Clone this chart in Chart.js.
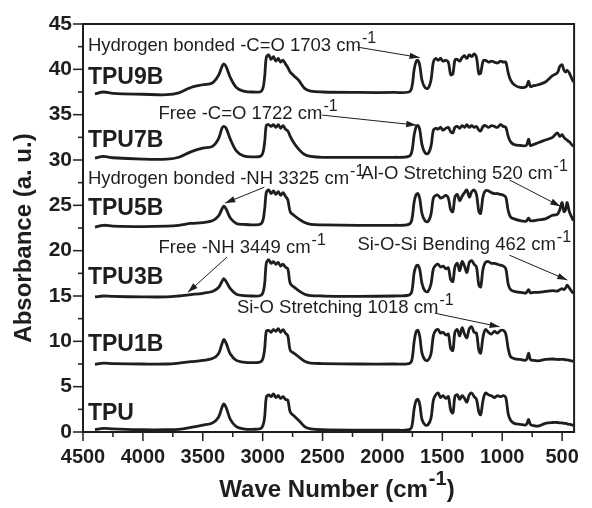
<!DOCTYPE html>
<html>
<head>
<meta charset="utf-8">
<script src="https://cdn.jsdelivr.net/npm/chart.js@4.4.1/dist/chart.umd.min.js"></script>
<style>
  body { margin: 0; background: #fff; }
</style>
</head>
<body>
<canvas id="chart" width="592" height="508"></canvas>
<script>
const wavenumbers = [
  4400, 4330, 4250, 4000, 3800, 3700, 3600, 3500, 3420, 3370,
  3340, 3325, 3305, 3270, 3220, 3160, 3080, 3010, 2985, 2970,
  2950, 2930, 2910, 2890, 2870, 2850, 2830, 2810, 2790, 2770,
  2740, 2700, 2650, 2600, 2500, 2200, 1900, 1780, 1755, 1735,
  1718, 1703, 1688, 1670, 1645, 1620, 1595, 1575, 1555, 1535,
  1515, 1495, 1470, 1450, 1430, 1412, 1395, 1375, 1355, 1335,
  1315, 1295, 1275, 1255, 1235, 1215, 1195, 1180, 1160, 1140,
  1115, 1090, 1065, 1040, 1015, 990, 970, 950, 930, 900,
  850, 800, 780, 765, 740, 700, 640, 580, 540, 520,
  500, 485, 470, 458, 440, 420, 405
];

const tpu = [
  0.25, 0.4, 0.35, 0.25, 0.25, 0.3, 0.5, 0.75, 1.0, 1.6,
  2.7, 3.1, 2.7, 1.4, 0.6, 0.35, 0.3, 0.45, 1.5, 3.8,
  4.1, 3.9, 4.2, 3.8, 4.0, 3.7, 3.9, 3.6, 3.5, 2.2,
  1.8, 1.3, 0.6, 0.35, 0.25, 0.2, 0.2, 0.25, 0.6, 2.6,
  3.5, 3.6, 3.0, 1.4, 0.8, 0.8, 1.5, 3.5, 4.1, 4.3,
  3.8, 4.0, 3.7, 3.9, 2.4, 2.1, 3.9, 4.1, 3.6, 4.0,
  3.7, 3.3, 4.1, 4.3, 3.9, 3.6, 2.2, 1.9, 3.5, 4.3,
  4.1, 4.0, 3.8, 4.0, 3.9, 4.0, 3.8, 2.0, 1.3, 0.95,
  0.85, 0.8, 1.4, 0.85, 0.7, 0.65, 0.95, 1.05, 1.05, 1.0,
  1.0, 0.95, 0.95, 0.9, 0.85, 0.8, 0.7
];

const tpu1b = [
  7.45, 7.6, 7.55, 7.5, 7.5, 7.6, 7.75, 7.9, 8.1, 8.6,
  9.7, 10.2, 9.8, 8.6, 7.9, 7.7, 7.65, 7.8, 9.0, 11.1,
  11.2, 11.0, 11.3, 11.1, 11.4, 11.0, 11.3, 10.9, 10.6, 9.0,
  8.7, 8.3, 7.8, 7.6, 7.55, 7.5, 7.5, 7.55, 7.9, 10.0,
  11.1, 11.2, 10.5, 8.7, 7.95, 7.9, 8.6, 10.6, 11.2, 11.3,
  10.9, 11.0, 10.7, 10.8, 9.2, 9.0, 11.0, 11.3, 10.6, 11.5,
  10.8, 10.4, 11.4, 11.6, 11.0, 10.9, 9.0, 8.7, 10.5, 11.3,
  11.0, 10.8, 11.1, 10.9, 11.2, 11.2, 10.8, 9.2, 8.3, 8.1,
  8.0, 7.95, 8.7, 8.0, 7.9, 7.85, 8.0, 8.05, 8.0, 8.0,
  8.0, 8.0, 7.95, 7.95, 7.9, 7.85, 7.8
];

const tpu3b = [
  14.9, 15.0, 14.95, 14.9, 14.9, 15.0, 15.15, 15.3, 15.5, 15.9,
  16.6, 16.9, 16.6, 15.8, 15.2, 15.05, 15.0, 15.1, 16.2, 18.6,
  19.0, 18.6, 18.8, 18.5, 18.7, 18.3, 18.5, 18.2, 18.0, 16.4,
  16.0, 15.6, 15.2, 15.05, 15.0, 14.95, 15.0, 15.1, 15.5, 17.6,
  18.3, 18.4, 17.9, 16.4, 15.55, 15.5, 16.3, 18.0, 18.4, 18.5,
  18.2, 18.3, 18.0, 18.1, 16.8, 16.6, 18.2, 18.6, 17.8, 18.8,
  18.3, 17.6, 18.7, 18.9, 18.5, 18.2, 16.2, 16.0, 18.0, 18.7,
  18.8, 18.6, 18.6, 18.5, 18.4, 18.3, 18.0, 16.3, 15.7, 15.5,
  15.4, 15.35, 15.7, 15.35, 15.4, 15.4, 15.5, 15.6, 15.55, 15.7,
  15.8, 15.7, 15.9, 16.2, 15.9, 15.5, 15.3
];

const tpu5b = [
  22.6, 22.8, 22.7, 22.65, 22.7, 22.8, 23.0, 23.1, 23.3, 23.8,
  24.6, 24.9, 24.6, 23.6, 23.0, 22.9, 22.85, 23.0, 24.4, 26.4,
  26.7, 26.3, 26.6, 26.2, 26.5, 26.1, 26.4, 26.0, 25.6, 24.3,
  23.9, 23.5, 23.1, 22.9, 22.85, 22.8, 22.8, 22.9, 23.4, 25.4,
  26.2, 26.3, 25.7, 24.1, 23.3, 23.2, 24.0, 25.8, 26.1, 26.1,
  25.8, 25.9, 26.1, 25.8, 24.5, 24.3, 25.9, 26.2, 25.5, 26.0,
  26.4, 26.7, 25.9, 26.5, 26.7, 26.2, 24.3, 24.1, 26.0, 26.6,
  26.6, 26.4, 26.3, 26.3, 26.2, 26.1, 25.9, 24.4, 23.7, 23.5,
  23.3, 23.25, 23.6, 23.3, 23.3, 23.4, 23.5, 23.9, 24.0, 24.5,
  25.3, 24.3, 24.6, 25.3, 24.3, 23.7, 23.3
];

const tpu7b = [
  30.2, 30.4, 30.25, 30.1, 30.1, 30.3, 30.9, 31.3, 31.5, 32.3,
  33.5, 33.7, 33.5, 32.3, 31.0, 30.45, 30.35, 30.5, 31.8, 33.8,
  33.9, 33.7, 33.9, 33.6, 33.9, 33.5, 33.8, 33.4, 33.2, 32.6,
  31.9, 31.2, 30.6, 30.4, 30.3, 30.3, 30.3, 30.4, 30.9, 32.8,
  33.7, 33.8, 33.3, 31.7, 30.8, 30.7, 31.5, 33.3, 33.5, 33.4,
  33.6, 33.3, 33.5, 33.6, 33.1, 33.0, 33.6, 33.7, 33.5, 33.8,
  33.6, 33.9, 33.6, 33.8, 33.6, 33.7, 33.3, 33.2, 33.7, 33.8,
  33.6, 33.8, 33.7, 33.6, 33.9, 33.7, 33.6, 32.6, 32.0, 31.7,
  31.6, 31.6, 32.3, 31.6, 31.7, 31.9, 32.2, 32.5, 33.0, 32.6,
  32.8, 32.5, 32.3, 32.2, 32.0, 31.7, 31.5
];

const tpu9b = [
  37.3, 37.5, 37.35, 37.25, 37.2, 37.4, 38.0, 38.3, 38.5, 39.3,
  40.3, 40.6, 40.3, 39.1, 38.0, 37.6, 37.5, 37.6, 39.0, 41.3,
  41.6, 41.1, 41.4, 40.9, 41.2, 40.8, 41.0, 40.6, 40.2, 39.7,
  39.3, 38.8, 37.9, 37.6, 37.5, 37.45, 37.45, 37.5, 38.0, 40.0,
  40.9, 41.0, 40.4, 38.8, 38.0, 37.9, 38.8, 40.8, 41.2, 41.0,
  41.2, 40.9, 41.0, 40.8, 39.4, 39.5, 41.0, 41.1, 40.9, 41.3,
  41.5, 41.2, 41.6, 41.4, 41.7, 41.3, 39.5, 39.6, 40.9, 41.0,
  40.8, 40.9, 40.8, 40.7, 40.9, 40.8, 40.8, 39.6, 38.8, 38.3,
  38.0, 38.1, 38.7, 38.1, 38.2, 38.3, 38.6, 39.3, 39.6, 40.3,
  40.5, 39.9, 39.7, 39.9, 39.6, 39.0, 38.6
];

const seriesNames = ['TPU', 'TPU1B', 'TPU3B', 'TPU5B', 'TPU7B', 'TPU9B'];
const seriesValues = [tpu, tpu1b, tpu3b, tpu5b, tpu7b, tpu9b];
const nameLevels = [2.0, 9.6, 17.0, 24.6, 32.1, 39.1];

const xTickValues = [4500, 4000, 3500, 3000, 2500, 2000, 1500, 1000, 500];
const yTickValues = [0, 5, 10, 15, 20, 25, 30, 35, 40, 45];

// text, where it starts, and arrow from -> to (all in axis units)
const notes = [
  { text: 'Hydrogen bonded -C=O 1703 cm', at: [4459, 42.56], from: [2209, 42.45], to: [1690, 41.3] },
  { text: 'Free -C=O 1722 cm', at: [3870, 35.06], from: [2503, 34.95], to: [1718, 33.85] },
  { text: 'Hydrogen bonded -NH 3325 cm', at: [4459, 27.9], from: [2986, 27.0], to: [3313, 25.25] },
  { text: 'Al-O Stretching 520 cm', at: [2176, 28.45], from: [940, 27.8], to: [515, 24.9] },
  { text: 'Free -NH 3449 cm', at: [3870, 20.3], from: [3297, 19.3], to: [3624, 15.4] },
  { text: 'Si-O-Si Bending 462 cm', at: [2209, 20.6], from: [940, 19.5], to: [457, 16.76] },
  { text: 'Si-O Stretching 1018 cm', at: [3215, 13.67], from: [1562, 13.1], to: [1022, 11.6] }
];

const FONT = '"Liberation Sans", Arial, sans-serif';
const INK = '#1e1e1e';

function drawWithSup(ctx, base, sup, x, y, size, weight) {
  ctx.font = weight + ' ' + size + 'px ' + FONT;
  ctx.fillText(base, x, y);
  const w = ctx.measureText(base).width;
  ctx.font = weight + ' ' + Math.round(size * 0.85) + 'px ' + FONT;
  ctx.fillText(sup, x + w + 1, y - size * 0.42);
  return x + w + 1 + ctx.measureText(sup).width;
}

function arrow(ctx, x1, y1, x2, y2) {
  ctx.beginPath();
  ctx.moveTo(x1, y1);
  ctx.lineTo(x2, y2);
  ctx.stroke();
  const a = Math.atan2(y2 - y1, x2 - x1);
  const L = 10, W = 3.2;
  ctx.beginPath();
  ctx.moveTo(x2, y2);
  ctx.lineTo(x2 - L * Math.cos(a) + W * Math.sin(a), y2 - L * Math.sin(a) - W * Math.cos(a));
  ctx.lineTo(x2 - L * Math.cos(a) - W * Math.sin(a), y2 - L * Math.sin(a) + W * Math.cos(a));
  ctx.closePath();
  ctx.fill();
}

const decor = {
  id: 'decor',
  afterDraw(chart) {
    const ctx = chart.ctx;
    const xs = chart.scales.x;
    const ys = chart.scales.y;
    const a = chart.chartArea;
    ctx.save();
    ctx.strokeStyle = INK;
    ctx.fillStyle = INK;

    ctx.lineWidth = 2;
    ctx.strokeRect(a.left, a.top, a.right - a.left, a.bottom - a.top);

    ctx.lineWidth = 1.5;
    for (let v = 0; v <= 45; v += 2.5) {
      const py = ys.getPixelForValue(v);
      const len = v % 5 === 0 ? 10 : 5;
      ctx.beginPath();
      ctx.moveTo(a.left - len, py);
      ctx.lineTo(a.left, py);
      ctx.stroke();
    }
    for (let v = 4500; v >= 500; v -= 250) {
      const px = xs.getPixelForValue(v);
      const len = v % 500 === 0 ? 9 : 5;
      ctx.beginPath();
      ctx.moveTo(px, a.bottom);
      ctx.lineTo(px, a.bottom + len);
      ctx.stroke();
    }

    ctx.textBaseline = 'middle';
    ctx.textAlign = 'left';
    ctx.font = 'bold 23px ' + FONT;
    seriesNames.forEach((name, i) => {
      ctx.fillText(name, xs.getPixelForValue(4459), ys.getPixelForValue(nameLevels[i]));
    });

    ctx.lineWidth = 1;
    notes.forEach(n => {
      drawWithSup(ctx, n.text, '-1', xs.getPixelForValue(n.at[0]), ys.getPixelForValue(n.at[1]), 18.5, 'normal');
      arrow(ctx, xs.getPixelForValue(n.from[0]), ys.getPixelForValue(n.from[1]),
        xs.getPixelForValue(n.to[0]), ys.getPixelForValue(n.to[1]));
    });

    // axis titles
    ctx.save();
    ctx.translate(24, 238);
    ctx.rotate(-Math.PI / 2);
    ctx.textAlign = 'center';
    ctx.font = 'bold 24px ' + FONT;
    ctx.fillText('Absorbance (a. u.)', 0, 0);
    ctx.restore();

    const base = 'Wave Number (cm';
    ctx.font = 'bold 24px ' + FONT;
    const w1 = ctx.measureText(base).width;
    ctx.font = 'bold 20px ' + FONT;
    const w2 = ctx.measureText('-1').width;
    ctx.font = 'bold 24px ' + FONT;
    const w3 = ctx.measureText(')').width;
    const x0 = 337 - (w1 + w2 + w3 + 1) / 2;
    const end = drawWithSup(ctx, base, '-1', x0, 490, 24, 'bold');
    ctx.font = 'bold 24px ' + FONT;
    ctx.fillText(')', end, 490);

    ctx.restore();
  }
};

const ctx = document.getElementById('chart').getContext('2d');
new Chart(ctx, {
  type: 'line',
  data: {
    datasets: seriesValues.map((vals, i) => ({
      label: seriesNames[i],
      data: wavenumbers.map((w, j) => ({ x: w, y: vals[j] })),
      borderColor: INK,
      borderWidth: 2.8,
      pointRadius: 0,
      tension: 0.35,
      fill: false
    }))
  },
  options: {
    responsive: false,
    animation: false,
    devicePixelRatio: 1,
    layout: { padding: { top: 24, right: 8, left: 0, bottom: 0 } },
    plugins: { legend: { display: false }, tooltip: { enabled: false } },
    scales: {
      x: {
        type: 'linear',
        reverse: true,
        min: 400,
        max: 4500,
        afterBuildTicks: s => { s.ticks = xTickValues.map(v => ({ value: v })); },
        afterFit: s => { s.height = 76; },
        grid: { display: false, drawTicks: false },
        border: { display: false },
        ticks: {
          padding: 13,
          maxRotation: 0,
          autoSkip: false,
          color: INK,
          callback: v => String(v),
          font: { family: FONT, size: 20, weight: 'bold' }
        }
      },
      y: {
        min: 0,
        max: 45,
        afterBuildTicks: s => { s.ticks = yTickValues.map(v => ({ value: v })); },
        afterFit: s => { s.width = 83; },
        grid: { display: false, drawTicks: false },
        border: { display: false },
        ticks: {
          padding: 11,
          color: INK,
          callback: v => String(v),
          font: { family: FONT, size: 21, weight: 'bold' }
        }
      }
    }
  },
  plugins: [decor]
});
</script>
</body>
</html>
